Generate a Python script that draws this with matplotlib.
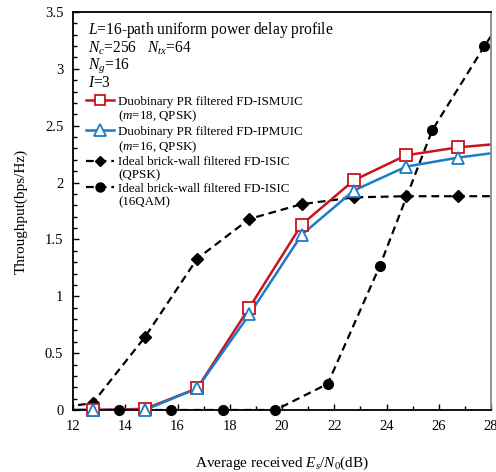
import matplotlib
matplotlib.use("Agg")
import matplotlib.pyplot as plt
from matplotlib.lines import Line2D
from matplotlib.ticker import MultipleLocator

plt.rcParams['font.family'] = ['Liberation Serif', 'DejaVu Serif']
plt.rcParams['mathtext.fontset'] = 'custom'
plt.rcParams['mathtext.rm'] = 'Liberation Serif'
plt.rcParams['mathtext.it'] = 'Liberation Serif:italic'

# SNR points (extension points beyond axes limits to show line continuation)
snr_a = [10.75, 12.75, 14.75, 16.75, 18.75, 20.75, 22.75, 24.75, 26.75, 28.75]
ismuic = [0.0, 0.0, 0.01, 0.19, 0.90, 1.63, 2.02, 2.24, 2.31, 2.35]
ipmuic = [0.0, 0.0, 0.0, 0.19, 0.84, 1.54, 1.93, 2.14, 2.22, 2.28]
isic_qpsk = [0.0, 0.06, 0.64, 1.33, 1.68, 1.81, 1.87, 1.88, 1.88, 1.88]
snr_b = [11.75, 13.75, 15.75, 17.75, 19.75, 21.75, 23.75, 25.75, 27.75, 28.75]
isic_16qam = [0.0, 0.0, 0.0, 0.0, 0.0, 0.23, 1.27, 2.46, 3.20, 3.55]

labels = ["Duobinary PR filtered FD-ISMUIC", "($m$=18, QPSK)",
          "Duobinary PR filtered FD-IPMUIC", "($m$=16, QPSK)",
          "Ideal brick-wall filtered FD-ISIC", "(QPSK)",
          "Ideal brick-wall filtered FD-ISIC", "(16QAM)"]

header = "\n".join([r"$L$=16-path uniform power delay profile",
                    r"$N_c$=256   $N_{tx}$=64",
                    r"$N_g$=16",
                    r"$I$=3"])

red = '#C8141E'
blue = '#1C7BC8'

fig = plt.figure(figsize=(4.96, 4.72), dpi=100)
ax = fig.add_axes([73/496, 1-410/472, 418/496, 398/472])

series = [
    (snr_b, isic_16qam, dict(color='black', ls=(0, (3.5, 2.2)), lw=1.6), dict(marker='o', ms=7, mfc='black', mec='black')),
    (snr_a, isic_qpsk, dict(color='black', ls=(0, (3.5, 2.2)), lw=1.6), dict(marker='D', ms=6, mfc='black', mec='black')),
    (snr_a, ismuic, dict(color=red, ls='-', lw=1.8), dict(marker='s', ms=8, mfc='white', mec=red, mew=1.3)),
    (snr_a, ipmuic, dict(color=blue, ls='-', lw=1.8), dict(marker='^', ms=9, mfc='white', mec=blue, mew=1.3)),
]
for xs, ys, lstyle, mstyle in series:
    ax.plot(xs, ys, clip_on=True, **lstyle)
    ax.plot(xs[1:-1], ys[1:-1], ls='none', clip_on=False, zorder=3, **mstyle)

ax.set_xlim(12, 28)
ax.set_ylim(0, 3.5)
ax.xaxis.set_major_locator(MultipleLocator(2))
ax.xaxis.set_minor_locator(MultipleLocator(1))
ax.yaxis.set_major_locator(MultipleLocator(0.5))
ax.yaxis.set_minor_locator(MultipleLocator(0.1))
ax.tick_params(which='both', direction='in', top=False, right=False, labelsize=10.5, width=1)
ax.tick_params(which='major', length=4, pad=7)
ax.tick_params(which='minor', length=3)
ax.set_yticks([0, 0.5, 1, 1.5, 2, 2.5, 3, 3.5])
ax.set_yticklabels(['0', '0.5', '1', '1.5', '2', '2.5', '3', '3.5'])
for s in ['left', 'bottom', 'top']:
    ax.spines[s].set_linewidth(1.3)
    ax.spines[s].set_color('black')
ax.spines['right'].set_color('#8a8a8a')
ax.spines['right'].set_linewidth(1.3)

ax.set_xlabel(r"Average received $E_s$/$N_0$(dB)", fontsize=11, labelpad=16)
ax.set_ylabel("Throughput(bps/Hz)", fontsize=11, labelpad=12)

ax.text(0.035, 0.98, header, transform=ax.transAxes, fontsize=11.2, va='top', ha='left',
        linespacing=0.98)

empty = Line2D([], [], ls='none')
handles = [
    Line2D([], [], color=red, lw=1.8, marker='s', ms=7, mfc='white', mec=red, mew=1.3), empty,
    Line2D([], [], color=blue, lw=1.8, marker='^', ms=8, mfc='white', mec=blue, mew=1.3), empty,
    Line2D([], [], color='black', lw=1.6, ls=(0, (3.5, 2.2)), marker='D', ms=5.5), empty,
    Line2D([], [], color='black', lw=1.6, ls=(0, (3.5, 2.2)), marker='o', ms=6.5), empty,
]
ax.legend(handles, labels, loc='upper left', bbox_to_anchor=(0.03, 0.79), frameon=False,
          fontsize=9.4, handlelength=2.2, handletextpad=0.3, labelspacing=0.1,
          borderpad=0, borderaxespad=0)

fig.savefig('out.png', dpi=100)
